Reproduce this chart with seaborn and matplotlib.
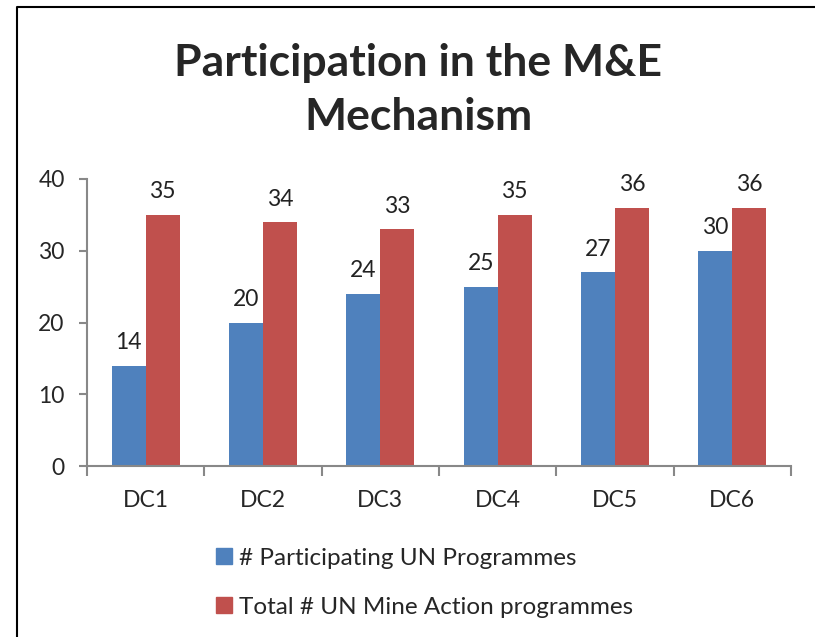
import numpy as np
import pandas as pd
import matplotlib
matplotlib.use('agg')
import matplotlib.pyplot as plt
from matplotlib.lines import Line2D
from matplotlib.ticker import FixedLocator
import seaborn as sns

categories = ["DC1", "DC2", "DC3", "DC4", "DC5", "DC6"]
participating = [14, 20, 24, 25, 27, 30]
total = [35, 34, 33, 35, 36, 36]
series_names = ["# Participating UN Programmes", "Total # UN Mine Action programmes"]
colors = ["#4F81BD", "#C0504D"]

sns.set_style("white")
plt.rcParams['font.family'] = ['Lato', 'DejaVu Sans']

data = pd.DataFrame({
    "cat": categories * 2,
    "value": participating + total,
    "series": [series_names[0]] * len(categories) + [series_names[1]] * len(categories),
})

fig = plt.figure(figsize=(8.15, 6.37), dpi=100, facecolor='w')
ax = fig.add_axes([0.1067, 0.2684, 0.8639, 0.4506])

sns.barplot(data=data, x="cat", y="value", hue="series", palette=colors,
            width=0.58, gap=0, linewidth=0, saturation=1, ax=ax)

for c in ax.containers:
    ax.bar_label(c, padding=9, fontsize=16.5, color='#222222')

ax.set_xlim(-0.5, len(categories) - 0.5)
ax.set_ylim(0, 40)
ax.set_yticks([0, 10, 20, 30, 40])
ax.set_xlabel("")
ax.set_ylabel("")
ax.tick_params(axis='y', labelsize=16.5, length=6, width=1.5, color='#888888', direction='out', left=True, pad=10)
ax.tick_params(axis='x', which='major', labelsize=16.5, length=0, pad=17)
ax.xaxis.set_minor_locator(FixedLocator(np.arange(-0.5, len(categories), 1.0)))
ax.tick_params(axis='x', which='minor', length=7, width=1.5, color='#888888', direction='out', bottom=True)
for s in ["top", "right"]:
    ax.spines[s].set_visible(False)
for s in ["left", "bottom"]:
    ax.spines[s].set_color('#888888')
    ax.spines[s].set_linewidth(1.5)

ax.legend_.remove()
handles = [plt.Rectangle((0, 0), 1, 1, color=c) for c in colors]
fig.legend(handles, series_names, loc='upper left', bbox_to_anchor=(0.265, 0.14),
           frameon=False, fontsize=17.5, handlelength=0.65, handleheight=0.65,
           handletextpad=0.3, labelspacing=1.15, borderpad=0, borderaxespad=0)

fig.text(0.513, 0.859, "Participation in the M&E\nMechanism", ha='center', va='center',
         fontsize=32, fontweight='bold', linespacing=1.42)

fig.add_artist(Line2D([0.021, 0.021, 1.0], [0.0, 0.989, 0.989], transform=fig.transFigure,
                      color='black', linewidth=1.5))

plt.savefig("out.png", dpi=100)
plt.close()
